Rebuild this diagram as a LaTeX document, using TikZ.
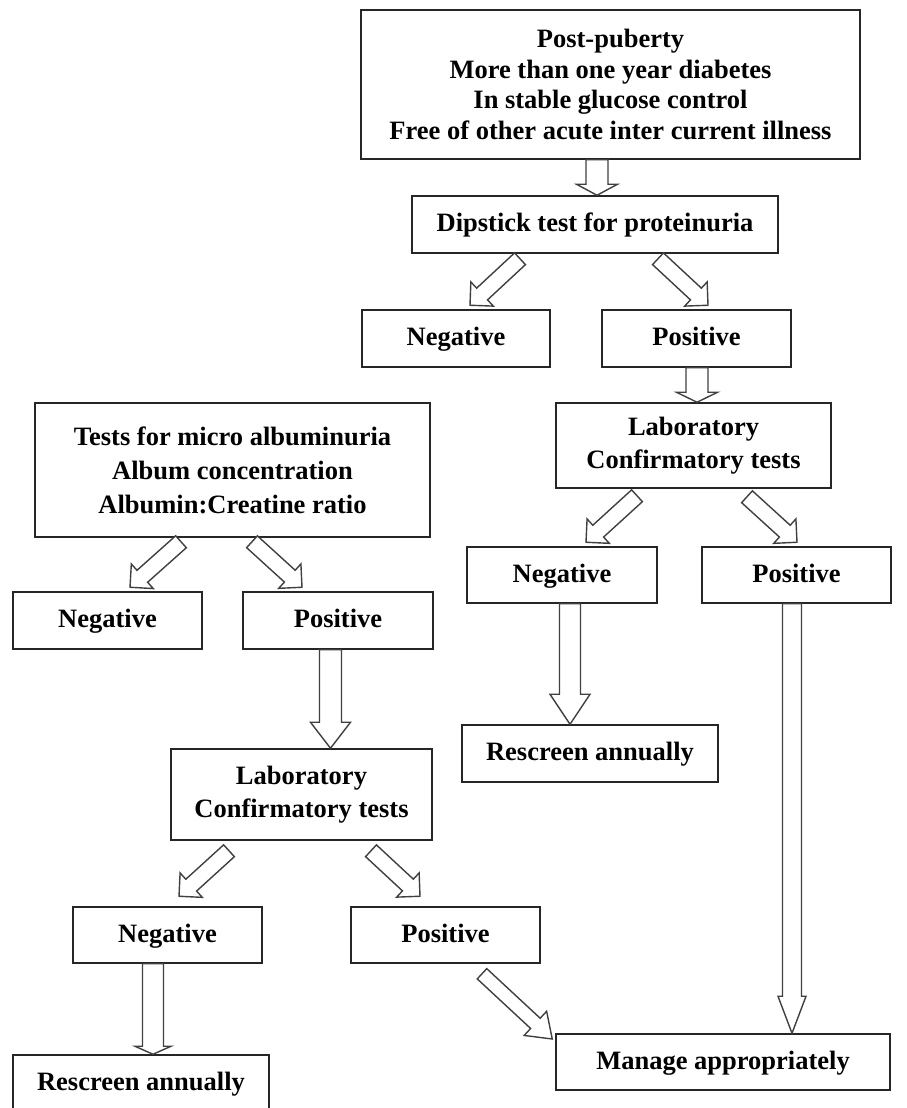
\documentclass[tikz,border=0pt]{standalone}
\usepackage{fontspec}
\setmainfont{Liberation Serif}
\usetikzlibrary{calc, positioning}

\tikzset{
  box/.style={draw=black!85, line width=1.5pt, align=center, inner sep=0pt,
    font=\fontsize{26.5}{30.5}\selectfont\bfseries},
  cell/.style={box, text height=19pt, text depth=5pt},
  fatarrow/.style={draw=black!75, line width=1.4pt, fill=white, line join=miter}
}

% #1 start, #2 tip, #3 half shaft, #4 half head, #5 head length
\newcommand{\blockarrow}[5]{%
  \coordinate (ba-s) at #1;
  \coordinate (ba-t) at #2;
  \coordinate (ba-h) at ($(ba-t)!#5!(ba-s)$);
  \draw[fatarrow] ($(ba-s)!#3!90:(ba-t)$) -- ($(ba-h)!#3!90:(ba-t)$)
    -- ($(ba-h)!#4!90:(ba-t)$) -- (ba-t) -- ($(ba-h)!#4!-90:(ba-t)$)
    -- ($(ba-h)!#3!-90:(ba-t)$) -- ($(ba-s)!#3!-90:(ba-t)$) -- cycle;}

\begin{document}
\begin{tikzpicture}[x=1pt, y=-1pt]
        \useasboundingbox (0,0) rectangle (906,1108);

        \node[box, minimum width=499, minimum height=149] at (610.5,84.5) (top) {Post-puberty\\
            More than one year diabetes\\
            In stable glucose control\\
            Free of other acute inter current illness};
        \node[cell, minimum width=366, minimum height=57] at (595,224.5) (dip) {Dipstick test for proteinuria};

        \node[cell, minimum width=188, minimum height=57] at (456,338.5) (negA) {Negative};
        \node[cell, minimum width=189, minimum height=57] at (696.5,338.5) (posA) {Positive};

        \node[box, minimum width=275, minimum height=85, font=\fontsize{26.5}{33}\selectfont\bfseries]
            at (693.5,445.5) (labR) {Laboratory\\
            Confirmatory tests};
        \node[cell, minimum width=190, minimum height=56] at (562,575) (negR) {Negative};
        \node[cell, minimum width=189, minimum height=56] at (796.5,575) (posR) {Positive};
        \node[cell, minimum width=256, minimum height=57] at (590,753.5) (rescR) {Rescreen annually};

        \node[box, minimum width=395, minimum height=134, font=\fontsize{26.5}{34}\selectfont\bfseries]
            at (232.5,470) (tests) {Tests for micro albuminuria\\
            Album concentration\\
            Albumin:Creatine ratio};
        \node[cell, minimum width=189, minimum height=57] at (107.5,620.5) (negL) {Negative};
        \node[cell, minimum width=190, minimum height=57] at (338,620.5) (posL) {Positive};

        \node[box, minimum width=261, minimum height=91, font=\fontsize{26.5}{33}\selectfont\bfseries]
            at (301.5,794.5) (labL) {Laboratory\\
            Confirmatory tests};
        \node[cell, minimum width=189, minimum height=56] at (167.5,935) (negB) {Negative};
        \node[cell, minimum width=189, minimum height=56] at (445.5,935) (posB) {Positive};
        \node[cell, minimum width=256, minimum height=57] at (141,1083.5) (rescL) {Rescreen annually};
        \node[cell, minimum width=334, minimum height=56] at (723,1062) (manage) {Manage appropriately};

        % straight down
        \blockarrow{($(top.south)+(-13.5,0)$)}{($(dip.north)+(2,0)$)}{11pt}{20.5pt}{11pt}
        \blockarrow{($(posA.south)+(0.5,0)$)}{($(labR.north)+(3.5,0)$)}{11pt}{20.5pt}{10pt}
        \blockarrow{($(posL.south)+(-7.5,0)$)}{($(labL.north)+(29,0)$)}{11pt}{20pt}{26pt}
        \blockarrow{($(negR.south)+(8,0)$)}{($(rescR.north)+(-20,0)$)}{10.5pt}{20pt}{30pt}
        \blockarrow{($(posR.south)+(-4.5,0)$)}{($(manage.north)+(69,0)$)}{9.5pt}{14pt}{37pt}
        \blockarrow{($(negB.south)+(-14.5,0)$)}{($(rescL.north)+(12,0)$)}{10.5pt}{18pt}{8pt}

        % slanted
        \blockarrow{($(dip.south)+(-75,5)$)}{($(negA.north)+(14,-4)$)}{8pt}{16.5pt}{16.5pt}
        \blockarrow{($(dip.south)+(63,5)$)}{($(posA.north)+(11.5,-4)$)}{8pt}{16.5pt}{16.5pt}
        \blockarrow{($(labR.south)+(-56.5,7)$)}{($(negR.north)+(24,-4)$)}{8pt}{16.5pt}{16.5pt}
        \blockarrow{($(labR.south)+(53.5,8)$)}{($(posR.north)+(0.5,-4)$)}{8pt}{16.5pt}{16.5pt}
        \blockarrow{($(tests.south)+(-51.5,4)$)}{($(negL.north)+(22.5,-4)$)}{8pt}{16.5pt}{16.5pt}
        \blockarrow{($(tests.south)+(19.5,4)$)}{($(posL.north)+(-36,-4)$)}{8pt}{16.5pt}{16.5pt}
        \blockarrow{($(labL.south)+(-72.5,10)$)}{($(negB.north)+(11.5,-10)$)}{8pt}{16.5pt}{16.5pt}
        \blockarrow{($(labL.south)+(69.5,10)$)}{($(posB.north)+(-25.5,-10)$)}{8pt}{16.5pt}{16.5pt}
        \blockarrow{($(posB.south)+(36.5,10)$)}{($(manage.west)+(-3,-23)$)}{7pt}{16.5pt}{23pt}
    \end{tikzpicture}
\end{document}
